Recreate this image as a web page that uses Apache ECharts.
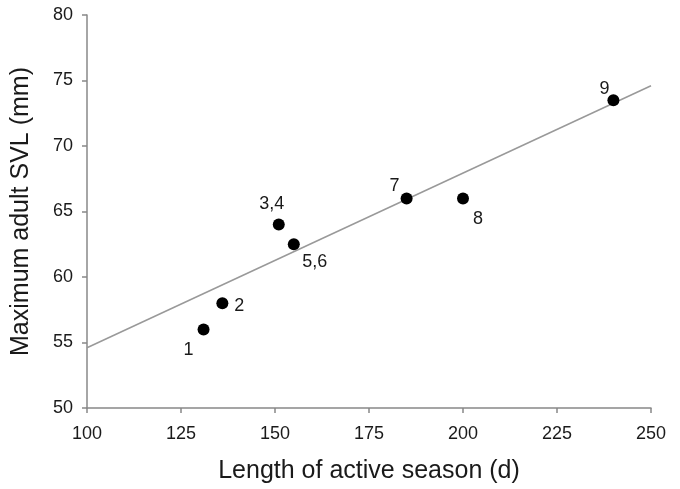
<!DOCTYPE html>
<html>
<head>
<meta charset="utf-8">
<script src="https://cdn.jsdelivr.net/npm/echarts@6/dist/echarts.min.js"></script>
<style>html,body{margin:0;padding:0;background:#fff;}#c{width:680px;height:489px;}</style>
</head>
<body>
<div id="c"></div>
<script>
// Data
const seasonLength = [131, 136, 151, 155, 185, 200, 240];
const maxSVL = [56, 58, 64, 62.5, 66, 66, 73.5];
const pointLabels = ['1', '2', '3,4', '5,6', '7', '8', '9'];
const fitX = [100, 250];
const fitY = [54.6, 74.6];
const xTicks = [100, 125, 150, 175, 200, 225, 250];
const yTicks = [50, 55, 60, 65, 70, 75, 80];

// Label placement (style)
const labelOffsets = [[-15, 21], [17, 3], [-7, -21], [21, 18], [-12, -12], [15, 21], [-9, -11]];

const font = 'Liberation Sans, Arial, sans-serif';
const axisColor = '#888';
const textColor = '#1a1a1a';

const chart = echarts.init(document.getElementById('c'), null, {renderer: 'canvas'});
const option = {
  animation: false,
  grid: {left: 87, right: 29, top: 15, bottom: 79},
  xAxis: {
    type: 'value', min: xTicks[0], max: xTicks[xTicks.length - 1], interval: 25,
    name: 'Length of active season (d)', nameLocation: 'middle', nameGap: 51,
    nameTextStyle: {fontFamily: font, fontSize: 25, color: textColor},
    axisLine: {lineStyle: {color: axisColor, width: 1.5}},
    axisTick: {show: true, length: 5, lineStyle: {color: axisColor, width: 1.5}},
    axisLabel: {fontFamily: font, fontSize: 18, color: textColor, margin: 17},
    splitLine: {show: false}
  },
  yAxis: {
    type: 'value', min: yTicks[0], max: yTicks[yTicks.length - 1], interval: 5,
    name: 'Maximum adult SVL (mm)', nameLocation: 'middle', nameGap: 53, nameRotate: 90,
    nameTextStyle: {fontFamily: font, fontSize: 25, color: textColor},
    axisLine: {show: true, lineStyle: {color: axisColor, width: 1.5}},
    axisTick: {show: true, length: 5, lineStyle: {color: axisColor, width: 1.5}},
    axisLabel: {fontFamily: font, fontSize: 18, color: textColor, margin: 14},
    splitLine: {show: false}
  },
  series: [
    {
      type: 'line',
      data: fitX.map((x, i) => [x, fitY[i]]),
      symbol: 'none',
      lineStyle: {color: '#999', width: 1.5},
      silent: true, z: 1
    },
    {
      type: 'scatter',
      symbol: 'circle', symbolSize: 12,
      itemStyle: {color: '#000', opacity: 1},
      z: 2,
      data: seasonLength.map((x, i) => ({
        value: [x, maxSVL[i]],
        label: {
          show: true, position: 'inside', offset: labelOffsets[i],
          formatter: pointLabels[i],
          fontFamily: font, fontSize: 18, color: textColor
        }
      }))
    }
  ]
};
chart.setOption(option);
</script>
</body>
</html>
